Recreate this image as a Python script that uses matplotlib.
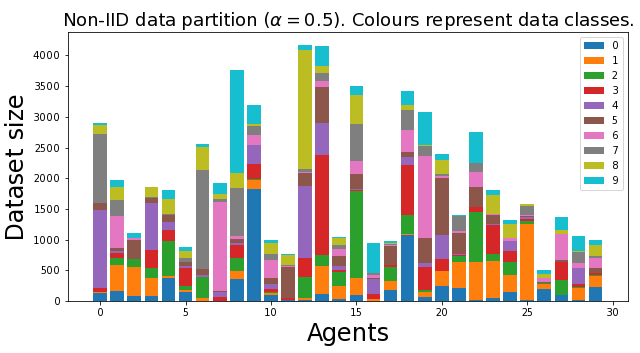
import numpy as np
import matplotlib
matplotlib.use("Agg")
import matplotlib.pyplot as plt

plt.rcParams["text.hinting_factor"] = 1
plt.rcParams["text.hinting"] = "force_autohint"

# dataset size per agent, one list per data class
agents = np.arange(30)
class_labels = ["0", "1", "2", "3", "4", "5", "6", "7", "8", "9"]

class0 = [124, 161, 81, 81, 371, 145, 0, 0, 355, 1822, 97, 16, 16, 113, 32,
          97, 0, 177, 1081, 65, 242, 210, 16, 48, 145, 16, 194, 97, 16, 226]
class1 = [20, 435, 468, 290, 32, 32, 48, 0, 129, 145, 32, 0, 32, 452, 210,
          274, 32, 145, 16, 81, 242, 419, 629, 613, 274, 1242, 81, 0, 194, 177]
class2 = [10, 108, 129, 161, 581, 65, 339, 0, 210, 16, 16, 0, 339, 194, 226,
          1419, 0, 226, 306, 32, 0, 113, 806, 113, 226, 48, 16, 242, 16, 16]
class3 = [54, 86, 10, 306, 177, 290, 0, 65, 226, 242, 48, 32, 323, 1613, 32,
          16, 81, 48, 806, 371, 194, 16, 81, 468, 177, 32, 0, 290, 48, 32]
class4 = [1274, 32, 5, 758, 129, 32, 32, 81, 32, 323, 81, 0, 1161, 532, 65,
          16, 242, 0, 145, 65, 403, 16, 0, 16, 161, 32, 0, 0, 258, 0]
class5 = [113, 48, 306, 81, 113, 65, 97, 16, 65, 0, 97, 500, 210, 581, 177,
          242, 16, 306, 81, 419, 919, 339, 323, 145, 0, 16, 16, 48, 0, 81]
class6 = [0, 516, 27, 0, 0, 16, 0, 1452, 48, 161, 306, 16, 16, 97, 113,
          210, 48, 16, 355, 1323, 32, 32, 242, 16, 48, 16, 65, 419, 81, 177]
class7 = [1129, 258, 0, 16, 16, 65, 1613, 48, 774, 145, 97, 32, 48, 129, 65,
          613, 32, 16, 323, 177, 32, 242, 145, 0, 0, 145, 0, 0, 194, 32]
class8 = [145, 210, 0, 161, 242, 113, 387, 81, 242, 32, 177, 161, 1952, 113, 113,
          468, 0, 16, 81, 16, 242, 0, 0, 306, 226, 32, 65, 65, 16, 177]
class9 = [32, 113, 86, 0, 145, 65, 48, 177, 1677, 306, 48, 16, 75, 323, 16,
          145, 500, 32, 226, 532, 97, 16, 516, 81, 65, 0, 65, 210, 242, 81]

classes = [class0, class1, class2, class3, class4,
           class5, class6, class7, class8, class9]

fig = plt.figure(figsize=(640 / 72, 353 / 72), dpi=72)
ax = fig.add_axes([0.106, 0.147, 0.875, 0.762])

bottom = np.zeros(len(agents))
for label, vals in zip(class_labels, classes):
    vals = np.array(vals, dtype=float)
    ax.bar(agents, vals, bottom=bottom, label=label)
    bottom += vals

ax.set_title(r"Non-IID data partition ($\alpha = 0.5$). Colours represent data classes.",
             fontsize=18)
ax.set_xlabel("Agents", fontsize=24)
ax.set_ylabel("Dataset size", fontsize=24)
ax.tick_params(labelsize=10)
ax.legend(loc="upper right", fontsize=10)

fig.savefig("out.png", dpi=72)
